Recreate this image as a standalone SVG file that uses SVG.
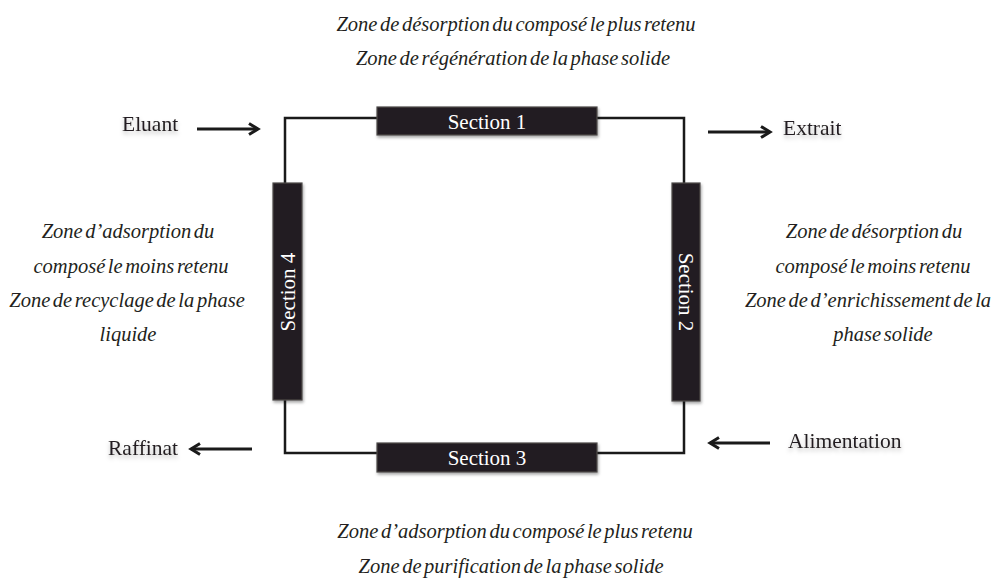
<svg xmlns="http://www.w3.org/2000/svg" width="996" height="583" viewBox="0 0 996 583">
<defs>
<style>
.zone{font-family:"Liberation Serif","Times New Roman",serif;font-style:italic;font-size:20.5px;word-spacing:-2.5px;fill:#231f20;text-anchor:middle;}
.lbl{font-family:"Liberation Serif","Times New Roman",serif;font-size:21.5px;fill:#231f20;filter:url(#tsh);}
.sec{font-family:"Liberation Serif","Times New Roman",serif;font-size:21px;fill:#ffffff;text-anchor:middle;}
.box{fill:#231f20;stroke:#4d494a;stroke-width:1.2;filter:url(#bsh);}
.wire{fill:none;stroke:#1a1a1a;stroke-width:2.5;}
.arr{fill:none;stroke:#1a1a1a;stroke-width:3.2;marker-end:url(#ah);}
</style>
<filter id="bsh" x="-10%" y="-20%" width="130%" height="160%">
<feDropShadow dx="1" dy="2" stdDeviation="1.5" flood-color="#000" flood-opacity="0.35"/>
</filter>
<filter id="tsh" x="-10%" y="-20%" width="120%" height="160%">
<feDropShadow dx="0" dy="3" stdDeviation="2" flood-color="#000" flood-opacity="0.25"/>
</filter>
<marker id="ah" markerWidth="14" markerHeight="14" refX="11" refY="7" orient="auto" markerUnits="userSpaceOnUse">
<polyline points="2,1.5 11,7 2,12.5" fill="none" stroke="#1a1a1a" stroke-width="3"/>
</marker>
</defs>

<g id="connectors">
<path class="wire" d="M377,118 H285 V183"/>
<path class="wire" d="M597,118 H684 V183"/>
<path class="wire" d="M684,401 V453 H597"/>
<path class="wire" d="M377,453 H285 V400"/>
<line class="arr" x1="197" y1="129" x2="258" y2="129"/>
<line class="arr" x1="708" y1="132" x2="770" y2="132"/>
<line class="arr" x1="252" y1="449" x2="191" y2="449"/>
<line class="arr" x1="770" y1="443" x2="710" y2="443"/>
</g>

<g id="section1">
<rect class="box" x="377" y="107" width="220" height="28"/>
<text class="sec" x="487" y="128.5">Section 1</text>
</g>
<g id="section2">
<rect class="box" x="672" y="183" width="28" height="218"/>
<text class="sec" transform="translate(686,292) rotate(90)" y="7">Section 2</text>
</g>
<g id="section3">
<rect class="box" x="377" y="443" width="220" height="29"/>
<text class="sec" x="487" y="465">Section 3</text>
</g>
<g id="section4">
<rect class="box" x="273" y="183" width="29" height="217"/>
<text class="sec" transform="translate(287.5,292) rotate(-90)" y="7">Section 4</text>
</g>

<g id="eluant"><text class="lbl" x="122" y="131">Eluant</text></g>
<g id="extrait"><text class="lbl" x="783" y="135">Extrait</text></g>
<g id="raffinat"><text class="lbl" x="108" y="455">Raffinat</text></g>
<g id="alimentation"><text class="lbl" x="788" y="448">Alimentation</text></g>

<g id="zone-top">
<text class="zone" x="516" y="31">Zone de désorption du composé le plus retenu</text>
<text class="zone" x="513" y="65">Zone de régénération de la phase solide</text>
</g>
<g id="zone-left">
<text class="zone" x="128" y="238">Zone d’adsorption du</text>
<text class="zone" x="131" y="273">composé le moins retenu</text>
<text class="zone" x="127" y="307">Zone de recyclage de la phase</text>
<text class="zone" x="128" y="341">liquide</text>
</g>
<g id="zone-right">
<text class="zone" x="874" y="238">Zone de désorption du</text>
<text class="zone" x="873" y="273">composé le moins retenu</text>
<text class="zone" x="868" y="307">Zone de d’enrichissement de la</text>
<text class="zone" x="883" y="341">phase solide</text>
</g>
<g id="zone-bottom">
<text class="zone" x="515" y="538">Zone d’adsorption du composé le plus retenu</text>
<text class="zone" x="511" y="573">Zone de purification de la phase solide</text>
</g>
</svg>
